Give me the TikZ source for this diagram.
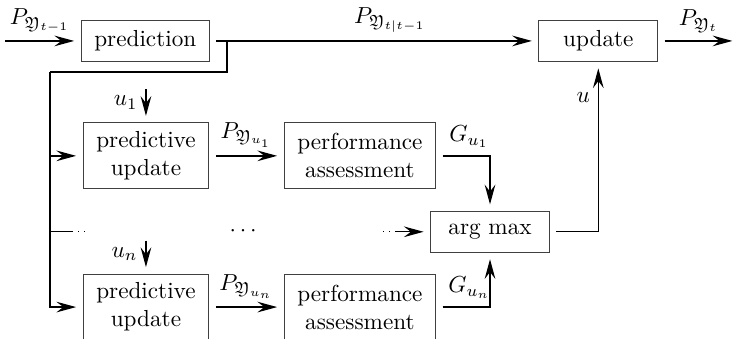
\documentclass[tikz,border=0pt]{standalone}
\usepackage{amsmath}
\usepackage{amssymb}
\usepackage{amsfonts}
\usetikzlibrary{arrows.meta}

\tikzset{
	block/.style={draw=black!75, align=center, minimum width=1.8cm, minimum height=0.62cm, inner xsep=0.2cm, outer sep=3pt},
	tallblock/.style={block, minimum height=1cm},
	flow/.style={semithick, -{Stealth[length=8.5pt,width=4.6pt,inset=3pt]}}
}

\begin{document}
\begin{tikzpicture}
	\useasboundingbox (0,0) rectangle (11.16,-5.12);
	% blocks
	\node[block] (pred) at (2.20,-0.62) {prediction};
	\node[block] (upd) at (9.06,-0.62) {update};
	\node[tallblock] (pu1) at (2.21,-2.36) {predictive\\update};
	\node[tallblock] (pa1) at (5.45,-2.36) {performance\\assessment};
	\node[block] (amax) at (7.42,-3.51) {arg max};
	\node[tallblock] (pun) at (2.21,-4.65) {predictive\\update};
	\node[tallblock] (pan) at (5.45,-4.65) {performance\\assessment};
	\node (mdots) at (3.71,-3.51) {$\cdots$};
	% free ends
	\coordinate (in) at (0.08,-0.62);
	\coordinate (out) at (11.09,-0.62);
	\coordinate (split) at (3.44,-0.62);
	\coordinate (bus) at (0.76,-1.09);
	\coordinate (dl) at (1.09,-3.51);
	\coordinate (dr) at (5.80,-3.51);

	\draw[flow] (in) -- node[above] {$P_{\mathfrak{Y}_{t-1}}$} (pred);
	\draw[flow] (pred) -- node[above, pos=0.55] {$P_{\mathfrak{Y}_{t|t-1}}$} (upd);
	\draw[flow] (upd) -- node[above] {$P_{\mathfrak{Y}_t}$} (out);
	% fan out to the candidate actions
	\draw[semithick] (split) |- (bus);
	\draw[flow] (bus) |- (pun);
	\draw[flow] (bus |- pu1.west) -- (pu1);
	\draw[semithick] (bus |- dl) -- (dl);
	\draw[semithick, dotted] (dl) -- ++(0.2,0);
	\draw[flow] ([yshift=0.4cm]pu1.north) -- node[left] {$u_1$} (pu1);
	\draw[flow] ([yshift=0.4cm]pun.north) -- node[left] {$u_n$} (pun);
	\draw[flow] (pu1) -- node[above] {$P_{\mathfrak{Y}_{u_1}}$} (pa1);
	\draw[flow] (pun) -- node[above] {$P_{\mathfrak{Y}_{u_n}}$} (pan);
	\draw[flow] (pa1) -| node[above, pos=0.28] {$G_{u_1}$} (amax);
	\draw[flow] (pan) -| node[above, pos=0.28] {$G_{u_n}$} (amax);
	\draw[semithick, dotted] (dr) -- ++(0.2,0) coordinate (dr2);
	\draw[flow] (dr2) -- (amax);
	\draw[flow] (amax) -| node[left, pos=0.91] {$u$} (upd);
\end{tikzpicture}
\end{document}
